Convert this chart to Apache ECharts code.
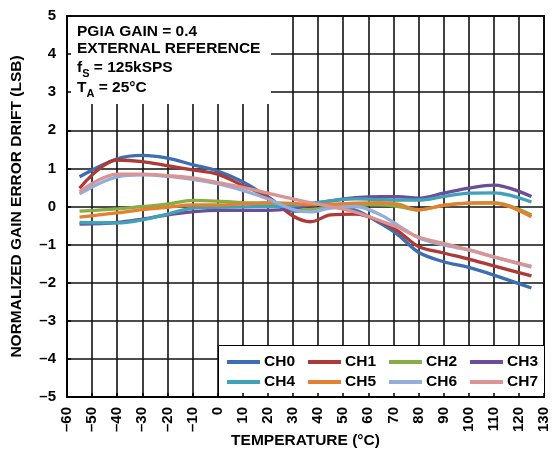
<!DOCTYPE html>
<html>
<head>
<meta charset="utf-8">
<script src="https://cdn.jsdelivr.net/npm/echarts@6/dist/echarts.min.js"></script>
<style>
  html, body { margin: 0; padding: 0; background: #fff; }
  #chart { width: 553px; height: 450px; }
</style>
</head>
<body>
<div id="chart"></div>
<script>
// Temperature points (°C) shared by every channel
const temps = [-55, -40, -30, -20, -10, 0, 10, 20, 30, 37, 45, 55, 65, 72, 80, 90, 100, 110, 125];

// Normalized gain error drift (LSB) per channel
const ch0 = [0.78, 1.25, 1.34, 1.27, 1.10, 0.93, 0.65, 0.25, -0.12, -0.10, 0.00, -0.10, -0.45, -0.75, -1.20, -1.45, -1.60, -1.80, -2.14];
const ch1 = [0.48, 1.22, 1.18, 1.07, 0.96, 0.85, 0.55, 0.25, -0.25, -0.40, -0.22, -0.20, -0.40, -0.65, -1.05, -1.22, -1.38, -1.56, -1.82];
const ch2 = [-0.12, -0.06, 0.00, 0.06, 0.16, 0.14, 0.10, 0.07, -0.04, -0.08, -0.02, 0.05, 0.04, 0.00, -0.09, 0.03, 0.09, 0.10, -0.22];
const ch3 = [-0.46, -0.42, -0.33, -0.22, -0.14, -0.10, -0.10, -0.10, -0.05, 0.05, 0.15, 0.23, 0.26, 0.26, 0.22, 0.35, 0.48, 0.56, 0.26];
const ch4 = [-0.42, -0.43, -0.35, -0.20, -0.04, -0.02, -0.01, 0.00, 0.02, 0.08, 0.15, 0.20, 0.18, 0.17, 0.17, 0.26, 0.35, 0.36, 0.12];
const ch5 = [-0.28, -0.17, -0.08, -0.02, 0.04, 0.04, 0.07, 0.10, 0.08, 0.05, 0.06, 0.09, 0.10, 0.06, -0.09, 0.03, 0.09, 0.09, -0.27];
const ch6 = [0.33, 0.78, 0.83, 0.79, 0.71, 0.60, 0.42, 0.20, -0.08, -0.14, -0.04, 0.00, -0.22, -0.50, -0.82, -1.01, -1.14, -1.32, -1.59];
const ch7 = [0.39, 0.85, 0.85, 0.81, 0.75, 0.63, 0.50, 0.35, 0.20, 0.10, 0.00, -0.15, -0.38, -0.55, -0.80, -0.97, -1.14, -1.32, -1.57];

const channelNames = ['CH0', 'CH1', 'CH2', 'CH3', 'CH4', 'CH5', 'CH6', 'CH7'];
const channelValues = [ch0, ch1, ch2, ch3, ch4, ch5, ch6, ch7];
const channelColors = ['#3d6db2', '#ad3a36', '#86ad47', '#6b4d99', '#3ea2b9', '#e5802f', '#93aedb', '#da9493'];

// Axis ranges and steps
const xMin = -60, xMax = 130, xStep = 10;
const yMin = -5, yMax = 5, yStep = 1;

const FONT = '"Liberation Sans", Arial, Helvetica, sans-serif';
const dash = v => String(v).replace('-', '\u2013');

const chart = echarts.init(document.getElementById('chart'), null, { renderer: 'canvas' });

const series = channelNames.map((name, k) => ({
  name,
  type: 'line',
  data: temps.map((t, i) => [t, channelValues[k][i]]),
  smooth: 0.35,
  showSymbol: false,
  symbol: 'none',
  lineStyle: { color: channelColors[k], width: 3.3 },
  itemStyle: { color: channelColors[k] },
  z: 2
}));

const legendBase = {
  orient: 'horizontal',
  icon: 'rect',
  itemWidth: 33,
  itemHeight: 4,
  itemGap: 13,
  padding: 0,
  left: 227,
  textStyle: { fontFamily: FONT, fontWeight: 'bold', fontSize: 15.5, color: '#000', padding: [0, 0, 0, -1] },
  z: 5
};

const noteStyle = { fontFamily: FONT, fontWeight: 'bold', fontSize: 15.5, fill: '#000' };

chart.setOption({
  animation: false,
  backgroundColor: '#fff',
  grid: {
    left: 67, right: 9, top: 16, bottom: 53,
    containLabel: false, outerBoundsMode: 'none',
    show: true, borderColor: '#000', borderWidth: 2, backgroundColor: 'transparent'
  },
  legend: [
    Object.assign({}, legendBase, { top: 354, data: channelNames.slice(0, 4) }),
    Object.assign({}, legendBase, { top: 374, data: channelNames.slice(4) })
  ],
  xAxis: [
    {
      type: 'value', min: xMin, max: xMax, interval: xStep, z: 0,
      name: 'TEMPERATURE (°C)', nameLocation: 'middle', nameGap: 36, nameMoveOverlap: false,
      nameTextStyle: { fontFamily: FONT, fontWeight: 'bold', fontSize: 15.5, color: '#000' },
      axisLine: { show: false, onZero: false },
      axisTick: { show: false },
      splitLine: { show: true, lineStyle: { color: '#111', width: 1.6 } },
      axisLabel: {
        rotate: 90, margin: 10, color: '#000', fontFamily: FONT, fontWeight: 'bold', fontSize: 15,
        formatter: dash
      }
    },
    {
      type: 'value', min: xMin, max: xMax, interval: xStep, position: 'bottom', z: 3,
      axisLine: { show: true, onZero: false, lineStyle: { color: '#000', width: 2 } },
      axisTick: { show: true, inside: true, length: 4, lineStyle: { color: '#000', width: 1.5 } },
      splitLine: { show: false },
      axisLabel: { show: false }
    }
  ],
  yAxis: [
    {
      type: 'value', min: yMin, max: yMax, interval: yStep, z: 0,
      name: 'NORMALIZED GAIN ERROR DRIFT (LSB)', nameLocation: 'middle', nameGap: 42, nameMoveOverlap: false,
      nameTextStyle: { fontFamily: FONT, fontWeight: 'bold', fontSize: 15.5, color: '#000' },
      axisLine: { show: false, onZero: false },
      axisTick: { show: false },
      splitLine: { show: true, lineStyle: { color: '#111', width: 1.6 } },
      axisLabel: { margin: 11, color: '#000', fontFamily: FONT, fontWeight: 'bold', fontSize: 15, formatter: dash }
    },
    {
      type: 'value', min: yMin, max: yMax, interval: yStep, position: 'left', z: 3,
      axisLine: { show: true, onZero: false, lineStyle: { color: '#000', width: 2 } },
      axisTick: { show: true, inside: true, length: 4, lineStyle: { color: '#000', width: 1.5 } },
      splitLine: { show: false },
      axisLabel: { show: false }
    }
  ],
  graphic: [
    // White panel behind the test-condition notes
    { type: 'rect', z: 1, silent: true, shape: { x: 68, y: 17, width: 203, height: 87 }, style: { fill: '#fff' } },
    // Framed panel behind the legend
    { type: 'rect', z: 1, silent: true, shape: { x: 218.5, y: 345.5, width: 326, height: 52 }, style: { fill: '#fff', stroke: '#000', lineWidth: 1 } },
    { type: 'text', z: 6, left: 77, top: 24, style: Object.assign({ text: 'PGIA GAIN = 0.4' }, noteStyle) },
    { type: 'text', z: 6, left: 77, top: 41, style: Object.assign({ text: 'EXTERNAL REFERENCE' }, noteStyle) },
    {
      type: 'text', z: 6, left: 77, top: 60,
      style: {
        text: '{b|f}{s|S}{b| = 125kSPS}',
        rich: {
          b: { fontFamily: FONT, fontWeight: 'bold', fontSize: 15.5, fill: '#000', verticalAlign: 'top' },
          s: { fontFamily: FONT, fontWeight: 'bold', fontSize: 11, fill: '#000', verticalAlign: 'top', padding: [8, 0, 0, 0] }
        }
      }
    },
    {
      type: 'text', z: 6, left: 77, top: 80,
      style: {
        text: '{b|T}{s|A}{b| = 25°C}',
        rich: {
          b: { fontFamily: FONT, fontWeight: 'bold', fontSize: 15.5, fill: '#000', verticalAlign: 'top' },
          s: { fontFamily: FONT, fontWeight: 'bold', fontSize: 11, fill: '#000', verticalAlign: 'top', padding: [8, 0, 0, 0] }
        }
      }
    }
  ],
  series
});
</script>
</body>
</html>
